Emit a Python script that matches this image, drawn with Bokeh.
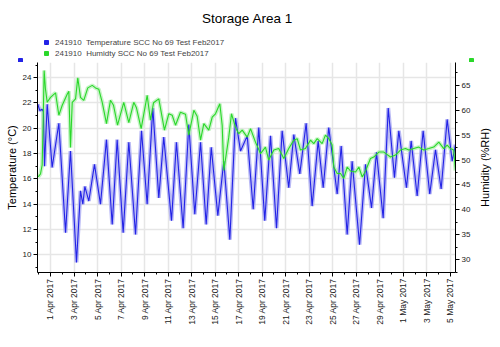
import math
import pandas as pd
from bokeh.plotting import figure
from bokeh.layouts import column, row
from bokeh.models import (Range1d, LinearAxis, FixedTicker, SingleIntervalTicker,
                          Label, Legend, LegendItem)
from bokeh.embed import file_html
from bokeh.resources import INLINE

# ---------------- data ----------------
title_text = "Storage Area 1"
temp_series = "241910  Temperature SCC No 69 Test Feb2017"
hum_series = "241910  Humidty SCC No 69 Test Feb2017"
temp_axis_label = "Temperature (°C)"
hum_axis_label = "Humidity (%RH)"

# days since 2017-04-01 00:00
temp_day = [-1.08, -0.91, -0.71, -0.60, -0.51, -0.28, 0.14, 0.71, 1.28, 1.70, 2.21, 2.55, 2.75, 2.92,
            3.26, 3.74, 4.25, 4.76, 5.25, 5.67, 6.18, 6.66, 7.23, 7.74, 8.22, 8.70, 9.21, 9.63, 10.29,
            10.71, 11.28, 11.76, 12.27, 12.76, 13.24, 13.67, 14.23, 14.74, 15.25, 15.73, 16.16, 16.73,
            17.24, 17.71, 18.22, 18.71, 19.22, 19.70, 20.26, 20.69, 21.20, 21.74, 22.25, 22.76, 23.19,
            23.66, 23.95, 24.38, 24.72, 25.23, 25.65, 26.28, 26.79, 27.30, 27.72, 28.29, 28.72, 29.25,
            29.62, 30.27, 30.67, 31.18, 31.69, 32.25, 32.74, 33.22, 33.73, 34.16, 34.44]
temp_val = [21.9, 21.4, 21.5, 21.3, 17.0, 21.9, 16.9, 20.4, 11.75, 18.2, 9.4, 15.05, 14.0, 15.4,
            14.25, 17.15, 14.0, 19.1, 12.4, 19.1, 11.75, 18.9, 11.6, 19.8, 14.0, 21.6, 14.5, 19.3, 12.7,
            18.9, 12.1, 20.3, 13.2, 18.9, 12.4, 18.5, 13.1, 17.4, 11.2, 20.8, 18.2, 19.4,
            13.6, 20.05, 12.7, 19.4, 12.1, 19.8, 15.3, 19.5, 16.4, 20.4, 13.85, 19.0, 15.3,
            20.05, 18.0, 14.8, 18.6, 11.6, 17.4, 10.8, 17.15, 13.7, 18.1, 12.9, 21.6, 16.1,
            19.8, 15.3, 19.0, 14.65, 19.8, 14.8, 18.3, 15.2, 20.7, 17.4, 18.7]

hum_day = [-1.05, -0.85, -0.71, -0.62, -0.54, -0.43, -0.28, 0.0, 0.43, 0.71, 1.0, 1.42, 1.56, 1.70,
           1.85, 2.13, 2.32, 2.55, 2.83, 3.17, 3.55, 3.83, 4.11, 4.40, 4.76, 5.10, 5.36, 5.70, 6.23,
           6.66, 7.08, 7.31, 7.71, 8.22, 8.50, 8.76, 9.21, 9.69, 10.06, 10.35, 10.63, 11.05, 11.48,
           11.76, 12.19, 12.47, 12.76, 13.04, 13.46, 13.75, 14.03, 14.40, 14.60, 14.74, 15.16, 15.39,
           15.73, 16.01, 16.30, 16.73, 17.01, 17.43, 17.86, 18.28, 18.56, 18.99, 19.41, 19.84, 20.26,
           20.69, 20.98, 21.26, 21.68, 22.11, 22.39, 22.68, 23.10, 23.38, 23.67, 23.95, 24.09, 24.38,
           24.66, 24.94, 25.23, 25.51, 25.94, 26.22, 26.51, 26.79, 27.21, 27.49, 27.92, 28.34, 28.91,
           29.34, 29.76, 30.19, 30.47, 30.89, 31.32, 31.74, 32.17, 32.59, 33.02, 33.44, 33.73, 34.01,
           34.29, 34.44]
hum_val = [46.6, 47.2, 49.0, 58.0, 68.0, 64.3, 61.6, 62.6, 63.5, 59.0, 61.0, 63.2, 63.8, 52.5,
           61.6, 62.3, 66.5, 62.6, 62.0, 64.5, 65.0, 64.5, 64.2, 61.6, 57.3, 62.0, 61.0, 57.0, 61.6,
           57.5, 61.6, 60.5, 56.3, 63.0, 58.0, 61.5, 62.3, 56.0, 59.3, 59.0, 57.0, 59.6, 59.2,
           55.0, 60.0, 58.8, 54.0, 57.3, 56.0, 58.6, 59.3, 61.3, 57.0, 47.9, 54.6, 59.3,
           56.6, 55.3, 56.0, 54.6, 56.3, 53.6, 51.3, 52.6, 50.0, 52.0, 52.3, 50.3, 52.3,
           54.0, 54.3, 52.0, 52.3, 54.0, 53.3, 54.3, 53.3, 55.0, 54.3, 53.0, 48.6, 47.3,
           47.3, 46.3, 48.6, 47.8, 47.6, 48.6, 46.6, 47.8, 50.3, 50.6, 51.6, 51.6, 50.6,
           51.0, 52.0, 52.3, 52.0, 52.3, 52.6, 52.0, 52.3, 52.6, 53.6, 52.3, 53.0, 52.3,
           52.0, 47.9]

tick_dates = ["2017-04-01", "2017-04-03", "2017-04-05", "2017-04-07", "2017-04-09", "2017-04-11",
              "2017-04-13", "2017-04-15", "2017-04-17", "2017-04-19", "2017-04-21", "2017-04-23",
              "2017-04-25", "2017-04-27", "2017-04-29", "2017-05-01", "2017-05-03", "2017-05-05"]
tick_labels = ["1 Apr 2017", "3 Apr 2017", "5 Apr 2017", "7 Apr 2017", "9 Apr 2017", "11 Apr 2017",
               "13 Apr 2017", "15 Apr 2017", "17 Apr 2017", "19 Apr 2017", "21 Apr 2017", "23 Apr 2017",
               "25 Apr 2017", "27 Apr 2017", "29 Apr 2017", "1 May 2017", "3 May 2017", "5 May 2017"]

x_span_days = [-1.105, 34.44]
temp_range = [8.6, 25.2]
hum_range = [27.4, 69.6]

# ---------------- build ----------------
base = pd.Timestamp("2017-04-01")
t_temp = base + pd.to_timedelta(temp_day, unit="D")
t_hum = base + pd.to_timedelta(hum_day, unit="D")


def ms(ts):
    return int(pd.Timestamp(ts).value // 10**6)


major_ms = [ms(d) for d in tick_dates]
minor_ms = [ms(d) for d in pd.date_range("2017-03-31", "2017-05-06", freq="D")]

FONT = "Liberation Sans"
BLUE = "#2323e6"
BLUE_L = "#a9a9f2"
GREEN = "#2ad82a"
GREEN_L = "#b8f0b8"
W = 500
HEAD_H = 62
MAIN_H = 285
SIDE_W = 25


def no_align(fig):
    try:
        fig.frame_align = False
    except Exception:
        pass


def blank(fig):
    fig.axis.visible = False
    fig.grid.visible = False
    fig.outline_line_color = None
    fig.background_fill_color = "white"
    fig.border_fill_color = "white"


# ---- header: title + legend ----
h = figure(width=W, height=HEAD_H, x_range=Range1d(0, W), y_range=Range1d(HEAD_H, 0),
           title=None, output_backend="svg", toolbar_location=None, min_border=0)
no_align(h)
blank(h)
h.add_layout(Label(x=247, y=18, text=title_text, text_align="center", text_baseline="middle",
                   text_font=FONT, text_font_size="13.5px", text_color="black"))
# legend marker renderers (their single point lies outside the header's visible range)
r_leg_t = h.scatter(x=[-100], y=[-100], marker="square", color=BLUE)
r_leg_h = h.scatter(x=[-100], y=[-100], marker="square", color=GREEN)
legend = Legend(items=[LegendItem(label=temp_series, renderers=[r_leg_t]),
                       LegendItem(label=hum_series, renderers=[r_leg_h])],
                location=(40, 4), orientation="vertical",
                glyph_width=12, glyph_height=10, label_height=10, label_standoff=3,
                spacing=1, padding=0, margin=0,
                label_text_font=FONT, label_text_font_size="8px",
                border_line_color=None, background_fill_alpha=0)
h.add_layout(legend)
# colour keys shown at the top of each value axis
h.scatter(x=[20, 471], y=[60, 60], marker="square", size=4, color=[BLUE, GREEN])

# ---- main chart ----
p = figure(width=W - SIDE_W, height=MAIN_H, x_axis_type="datetime",
           x_range=Range1d(base + pd.Timedelta(days=x_span_days[0]), base + pd.Timedelta(days=x_span_days[1])),
           y_range=Range1d(*temp_range), title=None,
           output_backend="svg", toolbar_location=None,
           min_border_left=37, min_border_right=20, min_border_top=0, min_border_bottom=75)
no_align(p)
p.extra_y_ranges = {"hum": Range1d(*hum_range)}
p.outline_line_color = None
p.background_fill_color = "white"
p.border_fill_color = "white"

p.line(t_temp, temp_val, line_width=4, color=BLUE_L, alpha=0.8)
p.line(t_hum, hum_val, line_width=4, color=GREEN_L, alpha=0.8, y_range_name="hum")
p.line(t_temp, temp_val, line_width=1.1, color=BLUE)
p.line(t_hum, hum_val, line_width=1.1, color=GREEN, y_range_name="hum")

xa = p.xaxis[0]
xa.ticker = FixedTicker(ticks=major_ms, minor_ticks=minor_ms)
xa.major_label_overrides = {k: v for k, v in zip(major_ms, tick_labels)}
xa.major_label_orientation = math.pi / 2

ya = p.yaxis[0]
ya.ticker = SingleIntervalTicker(interval=2, num_minor_ticks=2)
ya.axis_label = temp_axis_label

ra = LinearAxis(y_range_name="hum", ticker=SingleIntervalTicker(interval=5, num_minor_ticks=2))
p.add_layout(ra, "right")

for ax in [xa, ya, ra]:
    ax.axis_line_color = "black"
    ax.axis_line_width = 1
    ax.major_tick_line_color = "black"
    ax.minor_tick_line_color = "black"
    ax.major_tick_out = 4
    ax.major_tick_in = 0
    ax.minor_tick_out = 2
    ax.minor_tick_in = 0
    ax.major_label_text_font = FONT
    ax.major_label_text_font_size = "8px"
    ax.major_label_text_color = "#222222"
    ax.major_label_standoff = 2
    ax.axis_label_text_font = FONT
    ax.axis_label_text_font_style = "normal"
    ax.axis_label_text_color = "black"
    ax.axis_label_standoff = 2
xa.major_label_text_font_size = "8.5px"
ya.axis_label_text_font_size = "11px"

p.xgrid.grid_line_color = "#e6e6e6"
p.xgrid.grid_line_width = 1.5
p.ygrid.grid_line_color = "#e6e6e6"
p.ygrid.grid_line_width = 1.5

# ---- right strip carrying the humidity axis title (reads bottom to top) ----
s = figure(width=SIDE_W, height=MAIN_H, x_range=Range1d(0, SIDE_W), y_range=Range1d(0, MAIN_H),
           title=None, output_backend="svg", toolbar_location=None, min_border=0)
no_align(s)
blank(s)
s.add_layout(Label(x=9, y=MAIN_H - 105, text=hum_axis_label, angle=math.pi / 2,
                   text_align="center", text_baseline="middle",
                   text_font=FONT, text_font_size="11px", text_color="black"))

layout = column(h, row(p, s, spacing=0), spacing=0)
open("out.html", "w").write(file_html(layout, INLINE))
